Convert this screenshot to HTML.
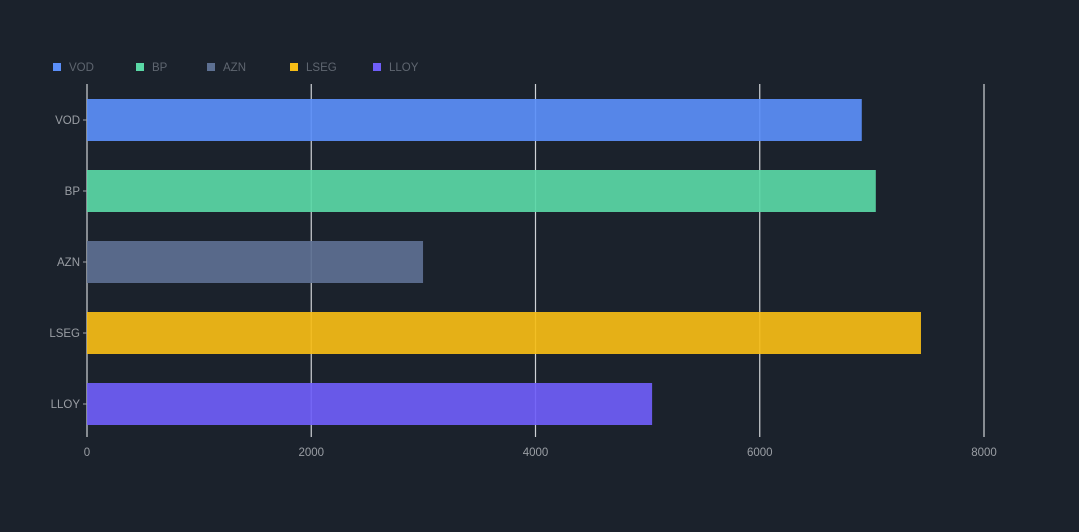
<!DOCTYPE html>
<html><head><meta charset="utf-8"><style>
body{margin:0;background:#1b222c;}
svg{display:block;font-family:"Liberation Sans",sans-serif;}
</style></head><body>
<svg id="chart" width="1079" height="532" viewBox="0 0 1079 532">
<rect width="1079" height="532" fill="#1b222c"/>
<g id="grid"></g><g id="bars"></g><g id="axes"></g><g id="legend"></g>
</svg>
<script>
const categories=["VOD","BP","AZN","LSEG","LLOY"];
const values=[6910,7035,2997,7438,5040];
const colors=["#5b8ff9","#5ad8a6","#5d7092","#f6bd16","#6f5ef9"];
const xTicks=[0,2000,4000,6000,8000];
const NS="http://www.w3.org/2000/svg";
const X0=87,PX=(984-87)/8000,TOP=84,BOT=437,BAND=71,FIRST=99,BH=42;
const x=v=>X0+v*PX;
const yb=i=>FIRST+i*BAND;
function mk(t,a,p){const e=document.createElementNS(NS,t);for(const k in a)e.setAttribute(k,a[k]);p.appendChild(e);return e;}
const grid=document.getElementById('grid'),bars=document.getElementById('bars'),axes=document.getElementById('axes'),leg=document.getElementById('legend');
xTicks.forEach(t=>{
 const l=mk('line',{x1:x(t),x2:x(t),y1:TOP,y2:BOT,stroke:'#cfd2d6','stroke-width':1.2},grid);
 
 
 const tx=mk('text',{x:x(t),y:456,'text-anchor':'middle','font-size':11.5,fill:'#9a9ea4'},axes);
 tx.textContent=t;
 
 
});
categories.forEach((c,i)=>{
 const r=mk('rect',{x:X0,y:yb(i),width:x(values[i])-X0,height:BH,fill:colors[i],'fill-opacity':0.92},bars);
 
 
 mk('line',{x1:83,x2:87,y1:yb(i)+BH/2,y2:yb(i)+BH/2,stroke:'#a0a4aa'},axes);
 const tx=mk('text',{x:80,y:yb(i)+BH/2+4,'text-anchor':'end','font-size':11.5,fill:'#9a9ea4'},axes);
 tx.textContent=c;
 
 
 const lx=[53,136,207,290,373][i];
 const g=mk('g',{},leg);
 
 
 mk('rect',{x:lx,y:63,width:8,height:8,fill:colors[i]},g);
 const lt=mk('text',{x:lx+16,y:71,'font-size':11.5,fill:'#5f6670'},g);
 lt.textContent=c;
});
</script>
</body></html>
